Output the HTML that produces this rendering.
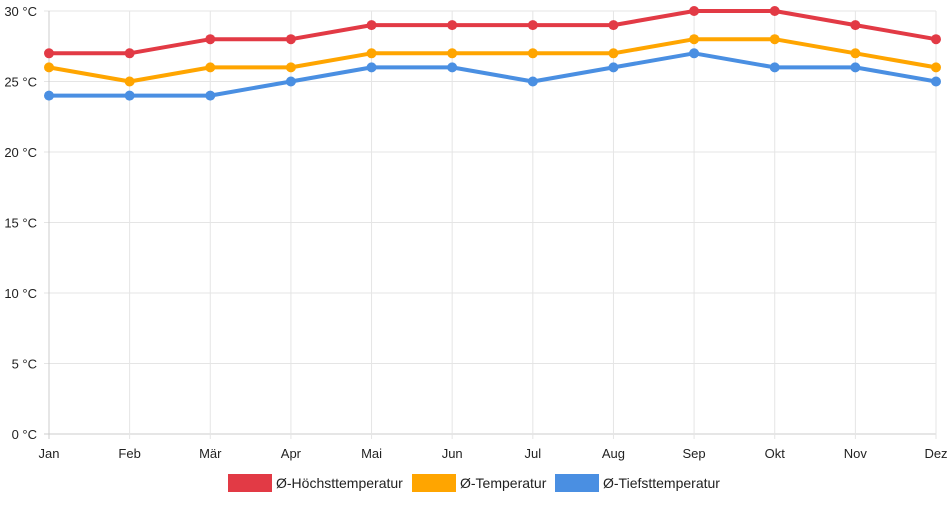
<!DOCTYPE html>
<html><head><meta charset="utf-8"><style>
body{margin:0;background:#fff;font-family:"Liberation Sans",sans-serif;}
svg text{font-family:"Liberation Sans",sans-serif;font-size:13px;fill:#222;}
</style></head><body>
<svg width="952" height="500" id="c"></svg>
<script>
const months=["Jan","Feb","Mär","Apr","Mai","Jun","Jul","Aug","Sep","Okt","Nov","Dez"];
const highTemps=[27,27,28,28,29,29,29,29,30,30,29,28];
const avgTemps=[26,25,26,26,27,27,27,27,28,28,27,26];
const lowTemps=[24,24,24,25,26,26,25,26,27,26,26,25];
const yTicks=[0,5,10,15,20,25,30];
const seriesNames=["Ø-Höchsttemperatur","Ø-Temperatur","Ø-Tiefsttemperatur"];
const colors=["#e23a45","#ffa500","#4a8fe2"];
const svg=document.getElementById('c');
const NS="http://www.w3.org/2000/svg";
const X0=49,X1=936,Y0=434,Y1=11;
const x=i=>X0+(X1-X0)*i/(months.length-1);
const y=v=>Y0-(Y0-Y1)*v/30;
function mk(t,a){const e=document.createElementNS(NS,t);for(const k in a)e.setAttribute(k,a[k]);svg.appendChild(e);return e;}
yTicks.forEach(v=>{
 const l=mk('line',{x1:X0-5,x2:X1,y1:y(v),y2:y(v),stroke:v===0?'#ccc':'#e5e5e5'});
 
 
 const t=mk('text',{x:37,y:y(v)+5,'text-anchor':'end'});t.textContent=v+' °C';
 
 
});
months.forEach((m,i)=>{
 const l=mk('line',{x1:x(i),x2:x(i),y1:Y1,y2:Y0+5,stroke:i===0?'#ccc':'#e5e5e5'});
 
 
 const t=mk('text',{x:x(i),y:458,'text-anchor':'middle'});t.textContent=m;
 
 
});
[highTemps,avgTemps,lowTemps].forEach((d,s)=>{
 const p=mk('polyline',{points:d.map((v,i)=>x(i)+','+y(v)).join(' '),fill:'none',stroke:colors[s],'stroke-width':4,'stroke-linejoin':'round'});
 
 
 d.forEach((v,i)=>{const c=mk('circle',{cx:x(i),cy:y(v),r:5,fill:colors[s]});
  
  });
});
const lx=[228,412,555];
seriesNames.forEach((n,s)=>{
 const r=mk('rect',{x:lx[s],y:474,width:44,height:18,fill:colors[s]});
 
 
 const t=mk('text',{x:lx[s]+48,y:488});t.textContent=n;t.style.fontSize='14px';
 
 
});
</script>
</body></html>
